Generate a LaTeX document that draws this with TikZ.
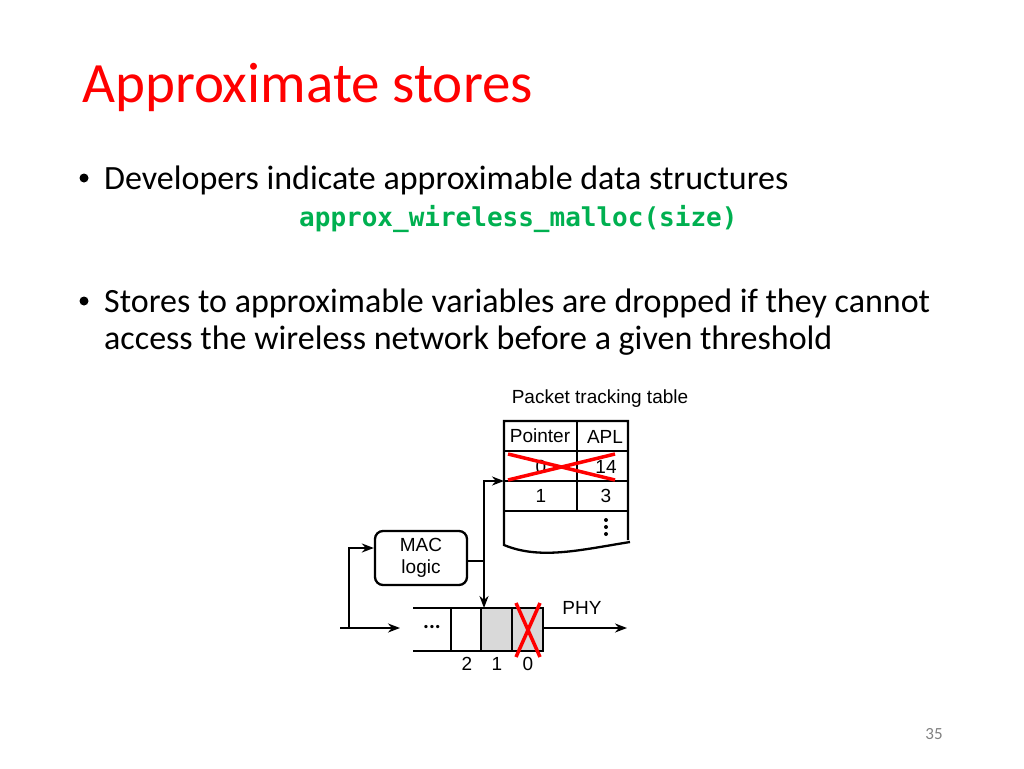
\documentclass[tikz,border=0pt]{standalone}
\usepackage{fontspec}
\setmainfont{Carlito}
\newfontfamily\diagfont{Liberation Sans}
\newfontfamily\codefont{DejaVu Sans Mono}
\usetikzlibrary{positioning,calc,arrows.meta}
\definecolor{titlered}{RGB}{255,0,0}
\definecolor{codegreen}{RGB}{0,176,80}
\definecolor{cellgrey}{gray}{0.85}

\begin{document}
\begin{tikzpicture}[x=1pt,y=-1pt,
  txt/.style={font=\fontsize{34}{40}\selectfont,anchor=base west,inner sep=0pt},
  lbl/.style={font=\diagfont\fontsize{19}{22}\selectfont,inner sep=0pt},
  arr/.style={-{Stealth[length=12pt,width=9pt]},line width=2.3pt},
  wire/.style={line width=2.3pt},
  cross/.style={red,line width=3.5pt}]

\useasboundingbox (0,0) rectangle (1024,768);

% Title and bullets
\node (title) [anchor=base west,inner sep=0pt,text=titlered,font=\fontsize{57}{64}\selectfont] at (82,102) {Approximate stores};
\fill (84,178) circle (4.5pt) node (b1dot) {};
\node (b1) [txt] at (104,189) {Developers indicate approximable data structures};
\node (code) [anchor=base west,inner sep=0pt,text=codegreen,font=\codefont\bfseries\fontsize{26}{30}\selectfont] at (299,226) {approx\_wireless\_malloc(size)};
\fill (84,301) circle (4.5pt) node (b2dot) {};
\node (b2) [txt] at (104,312) {Stores to approximable variables are dropped if they cannot};
\node (b2b) [txt] at (104,349) {access the wireless network before a given threshold};
\node (pagenum) [anchor=base,inner sep=0pt,text=black!50,font=\fontsize{17}{19}\selectfont] at (934,739) {35};

% Packet tracking table
\node (tabtitle) [lbl] at (600,399) {Packet tracking table};
\draw[wire] (628,540) -- (628,421) -- (504,421) -- (504,545) .. controls (540,560) and (580,550) .. (630,542);
\draw[wire] (504,451) -- (628,451); \draw[wire] (504,481) -- (628,481); \draw[wire] (504,511) -- (628,511);
\draw[wire] (577,421) -- (577,511);
\node (hptr) [lbl] at (540,436) {Pointer};
\node (hapl) [lbl] at (605,437) {APL};
\node (p0) [lbl] at (541,467) {0};
\node (a0) [lbl] at (606,467) {14};
\node (p1) [lbl] at (541,496) {1};
\node (a1) [lbl] at (606,496) {3};
\foreach \y in {520,527,534} \fill (606,\y) circle (2pt);
\draw[cross] (508,454) -- (615,480); \draw[cross] (508,480) -- (615,454);

% MAC logic
\node (mac) [lbl,draw,line width=2.3pt,rounded corners=8pt,minimum width=92pt,minimum height=54pt,align=center] at (421,558) {MAC\\logic};
\coordinate (split) at (484,561);
\coordinate (tabin) at (504,481);
\draw[wire] (mac.east |- split) -- (split);
\draw[arr] (split) |- (tabin);

% Queue
\fill[cellgrey] (481,608) rectangle (543,651);
\draw[wire] (413,608) -- (543,608) -- (543,651) -- (413,651);
\foreach \x in {451,481,512} \draw[wire] (\x,608) -- (\x,651);
\coordinate (qtop) at (484,608);
\draw[arr] (split) -- (qtop);
\node (qdots) [font=\bfseries\fontsize{22}{24}\selectfont,inner sep=0pt] at (432,627) {...};
\node (q2) [lbl] at (467,664) {2};
\node (q1) [lbl] at (497,664) {1};
\node (q0) [lbl] at (528,664) {0};
\draw[cross] (516,603) -- (540,657); \draw[cross] (540,603) -- (516,657);

% Input and output
\coordinate (in) at (340,628);
\coordinate (qin) at (400,628);
\coordinate (branch) at (349,628);
\draw[arr] (in) -- (qin);
\draw[arr] (branch) |- (mac.west |- 0,548);
\coordinate (qout) at (543,628);
\coordinate (phyend) at (627,628);
\draw[arr] (qout) -- (phyend);
\node (phy) [lbl] at (582,608) {PHY};
\end{tikzpicture}
\end{document}
